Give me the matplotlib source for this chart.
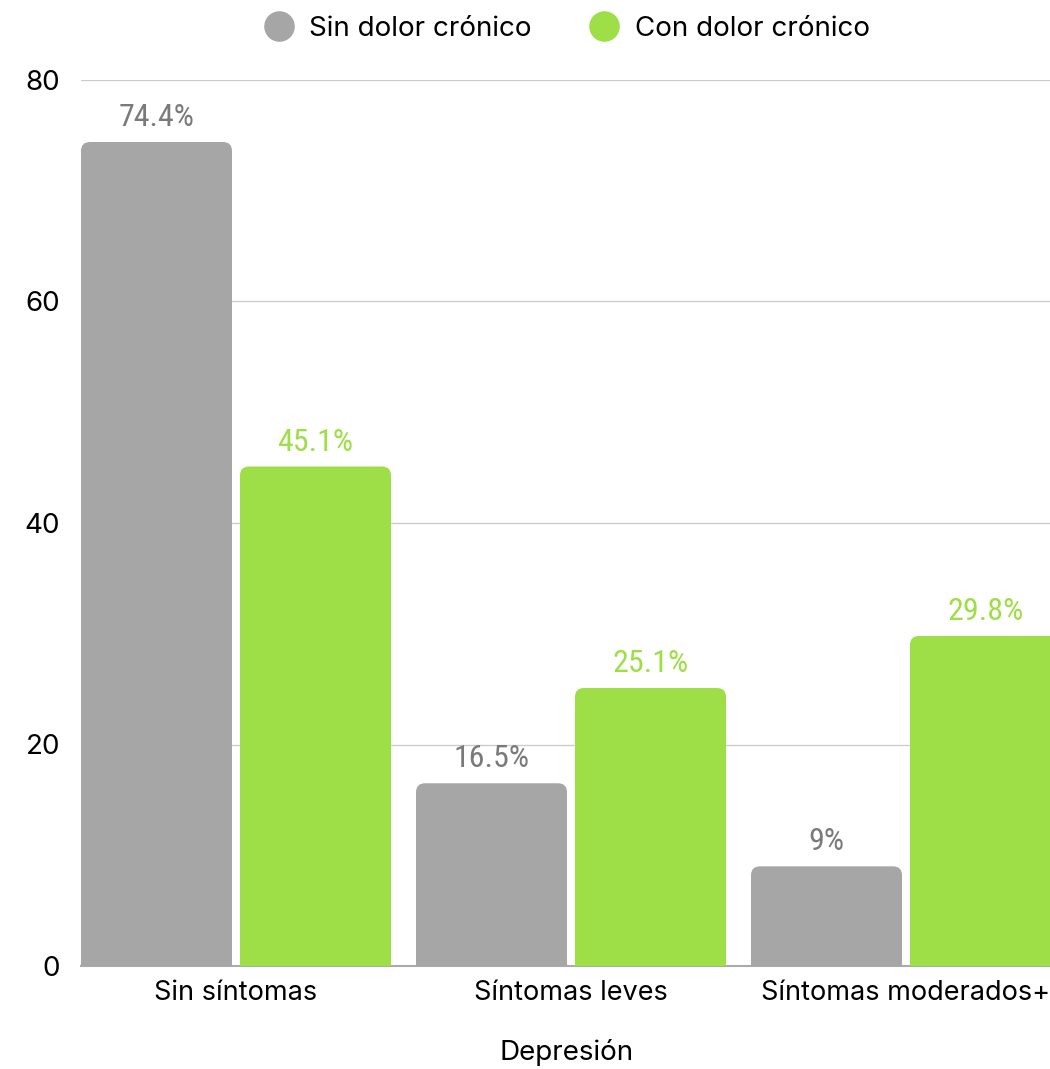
import matplotlib
matplotlib.use("Agg")
import matplotlib.pyplot as plt
from matplotlib.patches import FancyBboxPatch
from matplotlib.lines import Line2D
import numpy as np

categories = ["Sin síntomas", "Síntomas leves", "Síntomas moderados+"]
series_names = ["Sin dolor crónico", "Con dolor crónico"]
sin_dolor = [74.4, 16.5, 9]
con_dolor = [45.1, 25.1, 29.8]
value_labels_sin = ["74.4%", "16.5%", "9%"]
value_labels_con = ["45.1%", "25.1%", "29.8%"]
yticks = [0, 20, 40, 60, 80]

GRAY = "#a6a6a6"
GREEN = "#9ede46"
GRAY_TXT = "#7a7a7a"
GREEN_TXT = "#9ede46"

W, H = 1050, 1069
fig = plt.figure(figsize=(W / 100, H / 100), dpi=100)
ax = fig.add_axes([81 / W, 103 / H, 1 - 81 / W, (966 - 80) / H])

cond = ["Roboto Condensed", "Liberation Sans Narrow", "DejaVu Sans"]
reg = ["Inter", "Roboto", "DejaVu Sans"]

x = np.arange(len(categories))
bw = 151 / 335
gap = 8 / 335
off = bw / 2 + gap / 2
left = -off - bw / 2
right = left + (1050 - 81) / 335
ax.set_xlim(left, right)
ax.set_ylim(0, 80)

px_x = (right - left) / (1050 - 81)
px_y = 80 / 886
r_px = 9
rx = r_px * px_x
ry = r_px * px_y

bars1 = ax.bar(x - off, sin_dolor, bw, color=GRAY, zorder=3)
bars2 = ax.bar(x + off, con_dolor, bw, color=GREEN, zorder=3)
for bars, col in ((bars1, GRAY), (bars2, GREEN)):
    for b in bars:
        b.set_visible(False)
        bx, by = b.get_x(), b.get_y()
        bwid, bh = b.get_width(), b.get_height()
        p = FancyBboxPatch((bx, by - 2 * ry), bwid, bh + 2 * ry,
                           boxstyle=f"round,pad=0,rounding_size={rx}",
                           mutation_aspect=ry / rx, facecolor=col,
                           edgecolor="none", zorder=3)
        ax.add_patch(p)

for i in range(len(categories)):
    ax.text(x[i] - off, sin_dolor[i] + 0.9, value_labels_sin[i], ha="center",
            va="bottom", fontsize=23, color=GRAY_TXT, family=cond, zorder=4)
    ax.text(x[i] + off, con_dolor[i] + 0.9, value_labels_con[i], ha="center",
            va="bottom", fontsize=23, color=GREEN_TXT, family=cond, zorder=4)

ax.set_yticks(yticks)
ax.set_yticklabels([str(t) for t in yticks], fontsize=20, family=reg)
ax.set_xticks(x)
ax.set_xticklabels(categories, fontsize=19.5, family=reg)
ax.tick_params(axis="both", length=0)
ax.tick_params(axis="y", pad=15)
ax.tick_params(axis="x", pad=10)
ax.grid(axis="y", color="#cccccc", linewidth=1, zorder=0)
ax.set_axisbelow(True)
for s in ["top", "right", "left"]:
    ax.spines[s].set_visible(False)
ax.spines["bottom"].set_color("#aaaaaa")
ax.spines["bottom"].set_linewidth(1.5)
ax.spines["bottom"].set_zorder(2)

fig.text(567 / W, 1 - 1052 / H, "Depresión", ha="center", va="center",
         fontsize=20, family=reg)

handles = [Line2D([0], [0], marker="o", linestyle="none", markersize=21,
                  markerfacecolor=c, markeredgecolor=c) for c in (GRAY, GREEN)]
fig.legend(handles, series_names, loc="center", ncol=2,
           bbox_to_anchor=(566 / W, 1 - 29 / H), frameon=False,
           prop={"family": reg, "size": 20}, handletextpad=0.5,
           columnspacing=2.0, handlelength=1.2)

fig.savefig("out.png", dpi=100)
